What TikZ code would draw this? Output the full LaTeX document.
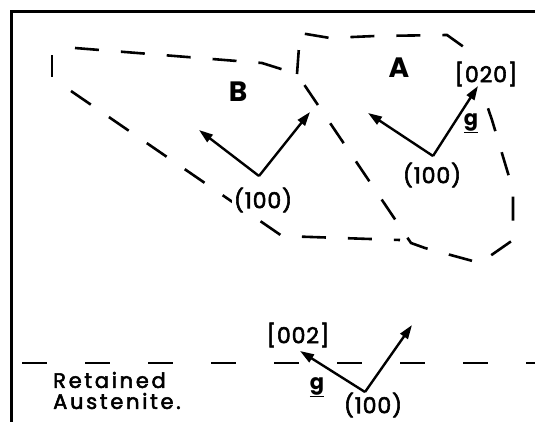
\documentclass[tikz,border=0pt]{standalone}
\usepackage{fontspec}
\setmainfont{Poppins}
\usetikzlibrary{arrows.meta}
\begin{document}
\begin{tikzpicture}[x=1pt,y=-1pt,
  frame/.style={line width=3pt},
  bnd/.style={line width=2.6pt, dash pattern=on 24pt off 22pt},
  vec/.style={line width=2.4pt, -{Triangle[length=14pt,width=9pt]}},
  lab/.style={font=\fontsize{22}{24}\selectfont\addfontfeature{FakeBold=2.5,LetterSpace=4}, inner sep=2pt, fill=white},
  gl/.style={font=\fontsize{21}{23}\selectfont\bfseries, inner sep=0pt},
  big/.style={font=\fontsize{28}{29}\selectfont\bfseries, inner sep=0pt},
  txt/.style={font=\fontsize{21}{23}\selectfont\addfontfeature{FakeBold=2.5,LetterSpace=13}, inner sep=0pt, anchor=west}]
\useasboundingbox (0,0) rectangle (535,421);
% frame
\draw[frame] (545,11) -- (11,11) -- (11,430);
% region boundaries
\draw[line width=2.6pt] (52,55) -- (52,77);
\draw[bnd] (75,48) -- (262,63) -- (297,74);
\draw[bnd] (297,74) -- (300,33) -- (330,38) -- (375,36) -- (447,35) -- (468,50)
  -- (492,120) -- (513,190) -- (513,240) -- (480,263) -- (425,248) -- (411,243) -- cycle;
\draw[bnd] (71,91) -- (282,236) -- (400,240);
\draw[bnd, dash pattern=on 25pt off 38pt] (22,363) -- (545,363);
% labels
\node[big] (labB) at (238,92) {B};
\node[big] (labA) at (399,68) {A};
\node[lab] (hklB) at (263,200) {(100)};
\node[lab] (hklA) at (432,175) {(100)};
\node[lab] (dirA) at (486,74) {[020]};
\node[gl] (gA) at (471,123) {\underline{g}};
\node[lab] (hklC) at (373,405) {(100)};
\node[lab] (dirC) at (298,335) {[002]};
\node[gl] (gC) at (317,387) {\underline{g}};
\node[txt] (ret) at (53,380) {Retained};
\node[txt] (aus) at (53,401) {Austenite.};
% vectors
\coordinate (vB) at (259,176);
\coordinate (tB1) at (199,130);
\coordinate (tB2) at (310,112);
\coordinate (vA) at (433,156);
\coordinate (tA1) at (368,113);
\coordinate (tA2) at (478,86);
\coordinate (vC) at (365,392);
\coordinate (tC1) at (300,351);
\coordinate (tC2) at (412,325);
\draw[vec] (vB) -- (tB1);
\draw[vec] (vB) -- (tB2);
\draw[vec] (vA) -- (tA1);
\draw[vec] (vA) -- (tA2);
\draw[vec] (vC) -- (tC1);
\draw[vec] (vC) -- (tC2);
\end{tikzpicture}
\end{document}
